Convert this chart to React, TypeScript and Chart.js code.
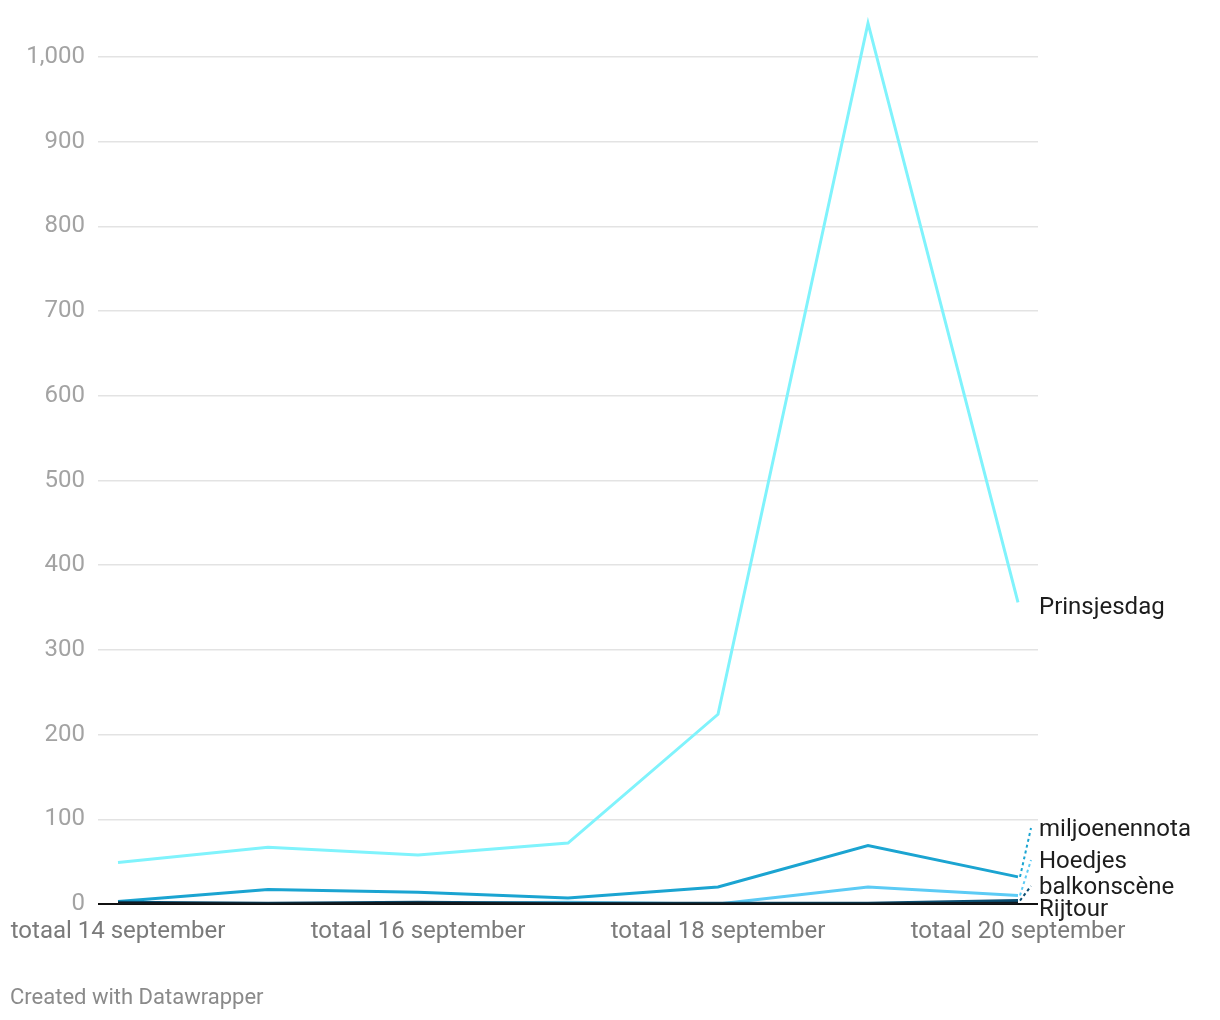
import React, { useEffect, useRef } from "react";
import { Chart, registerables } from "chart.js";

Chart.register(...registerables);

const categories = [
  "totaal 14 september",
  "totaal 15 september",
  "totaal 16 september",
  "totaal 17 september",
  "totaal 18 september",
  "totaal 19 september",
  "totaal 20 september",
];

const seriesNames = ["Rijtour", "balkonscène", "Hoedjes", "miljoenennota", "Prinsjesdag"];
const rijtour = [1, 0, 1, 0, 0, 0, 1];
const balkonscene = [2, 1, 2, 1, 1, 1, 4];
const hoedjes = [1, 0, 1, 2, 0, 20, 10];
const miljoenennota = [3, 17, 14, 7, 20, 69, 32];
const prinsjesdag = [49, 67, 58, 72, 224, 1040, 356];

const seriesColors = ["#111a20", "#0b4f73", "#5ccbf5", "#1ba4d1", "#80f3fc"];
const labelYOffsets = [910, 888, 862, 830, 608];
const yTicks = [0, 100, 200, 300, 400, 500, 600, 700, 800, 900, 1000];
const xTickIdx = [0, 2, 4, 6];

const FONT = "Roboto, 'Noto Sans', sans-serif";

export default function App() {
  const ref = useRef<HTMLCanvasElement>(null);
  useEffect(() => {
    const allSeries = [rijtour, balkonscene, hoedjes, miljoenennota, prinsjesdag];
    const labelPlugin = {
      id: "endLabels",
      afterDatasetsDraw(chart: any) {
        const ctx = chart.ctx;
        const xs = chart.scales.x;
        const ys = chart.scales.y;
        ctx.save();
        allSeries.forEach((s, i) => {
          const last = s[s.length - 1];
          const px = xs.getPixelForValue(s.length - 1);
          const py = ys.getPixelForValue(last);
          const ly = labelYOffsets[i];
          if (Math.abs(ly - py) > 10) {
            ctx.strokeStyle = seriesColors[i];
            ctx.lineWidth = 2;
            ctx.setLineDash([3, 3]);
            ctx.beginPath();
            ctx.moveTo(px + 2, py);
            ctx.lineTo(px + 13, ly - 2);
            ctx.stroke();
          }
          ctx.setLineDash([]);
          ctx.fillStyle = "#1d1d1d";
          ctx.font = `24px ${FONT}`;
          ctx.textBaseline = "middle";
          ctx.textAlign = "left";
          ctx.fillText(seriesNames[i], 1039, ly);
        });
        ctx.fillStyle = "#8a8a8a";
        ctx.font = `22px ${FONT}`;
        ctx.fillText("Created with Datawrapper", 10, 998);
        ctx.restore();
      },
    };

    const chart = new Chart(ref.current!, {
      type: "line",
      data: {
        labels: categories,
        datasets: allSeries.map((s, i) => ({
          label: seriesNames[i],
          data: s.map((v, j) => ({ x: j, y: v })),
          borderColor: seriesColors[i],
          borderWidth: 3,
          pointRadius: 0,
          tension: 0,
          fill: false,
        })),
      },
      options: {
        animation: false,
        responsive: false,
        maintainAspectRatio: false,
        layout: { padding: { top: 904 - 1050 * 0.847, right: 182, left: 0, bottom: 0 } },
        plugins: { legend: { display: false }, tooltip: { enabled: false } },
        scales: {
          x: {
            type: "linear",
            min: -2 / 15,
            max: 6 + 2 / 15,
            afterFit: (s: any) => {
              s.height = 116;
              s.paddingLeft = 0;
              s.paddingRight = 0;
            },
            afterBuildTicks: (s: any) => {
              s.ticks = xTickIdx.map((v) => ({ value: v }));
            },
            grid: { display: false, drawTicks: false },
            border: { display: false },
            ticks: {
              autoSkip: false,
              maxRotation: 0,
              padding: 14,
              color: "#7a7a7a",
              font: { family: FONT, size: 24 },
              callback: (v: any) => categories[Math.round(Number(v))] ?? "",
            },
          },
          y: {
            min: 0,
            max: 1050,
            afterFit: (s: any) => {
              s.width = 98;
              s.paddingTop = 0;
              s.paddingBottom = 0;
            },
            afterBuildTicks: (s: any) => {
              s.ticks = yTicks.map((v) => ({ value: v }));
            },
            grid: {
              drawTicks: false,
              color: (c: any) => (c.tick && c.tick.value === 0 ? "#111111" : "#e3e3e3"),
              lineWidth: (c: any) => (c.tick && c.tick.value === 0 ? 2 : 1.5),
            },
            border: { display: false },
            ticks: {
              padding: 13,
              color: "#a3a3a3",
              font: { family: FONT, size: 24 },
              callback: (v: any) => Number(v).toLocaleString("en-US"),
            },
          },
        },
      },
      plugins: [labelPlugin],
    } as any);
    return () => chart.destroy();
  }, []);
  return (
    <div style={{ position: "absolute", left: 0, top: 0, width: 1220, height: 1020, background: "#fff" }}>
      <canvas ref={ref} width={1220} height={1020} style={{ width: 1220, height: 1020 }} />
    </div>
  );
}
